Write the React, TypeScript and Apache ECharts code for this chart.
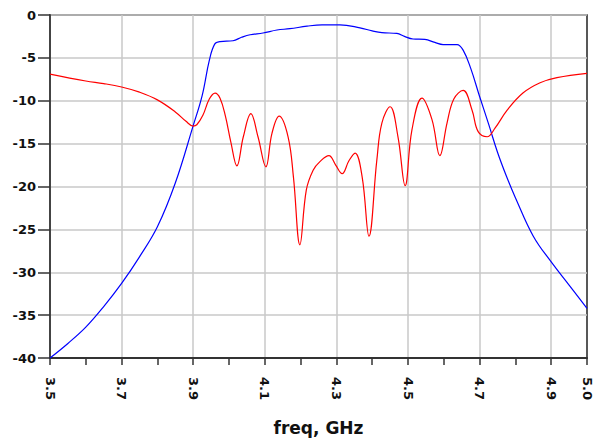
import React, { useEffect, useRef } from "react";
import * as echarts from "echarts";

const s21Freq = [3.5, 3.55, 3.6, 3.65, 3.7, 3.75, 3.8, 3.85, 3.9, 3.925, 3.945, 3.96, 3.975, 4.011, 4.035, 4.059, 4.095, 4.134, 4.17, 4.218, 4.26, 4.31, 4.366, 4.4, 4.427, 4.469, 4.49, 4.514, 4.547, 4.575, 4.598, 4.637, 4.654, 4.675, 4.7, 4.725, 4.75, 4.775, 4.8, 4.85, 4.9, 4.95, 5.0];
const s21Values = [-40, -38.3, -36.4, -34.0, -31.3, -28.2, -24.7, -19.6, -12.9, -9.4, -5.3, -3.4, -3.1, -3.0, -2.6, -2.3, -2.1, -1.75, -1.6, -1.3, -1.15, -1.15, -1.5, -1.85, -2.06, -2.15, -2.5, -2.8, -2.85, -3.2, -3.45, -3.45, -4.1, -6.2, -9.5, -12.7, -16.0, -18.8, -21.3, -25.8, -28.8, -31.5, -34.2];

const s11Freq = [3.5, 3.6, 3.65, 3.7, 3.75, 3.8, 3.85, 3.88, 3.9, 3.91, 3.927, 3.945, 3.961, 3.975, 3.99, 4.005, 4.022, 4.04, 4.061, 4.081, 4.103, 4.12, 4.14, 4.165, 4.18, 4.198, 4.216, 4.235, 4.254, 4.279, 4.298, 4.316, 4.335, 4.352, 4.372, 4.391, 4.413, 4.427, 4.45, 4.472, 4.492, 4.511, 4.539, 4.567, 4.589, 4.609, 4.628, 4.654, 4.679, 4.696, 4.721, 4.743, 4.777, 4.821, 4.869, 4.916, 5.0];
const s11Values = [-6.9, -7.7, -8.0, -8.4, -9.0, -9.9, -11.3, -12.4, -12.95, -12.8, -11.7, -9.8, -9.1, -9.7, -11.8, -14.8, -17.6, -14.2, -11.5, -14.2, -17.7, -13.8, -11.8, -14.2, -18.9, -26.8, -20.4, -18.1, -17.1, -16.4, -17.5, -18.5, -17.0, -16.1, -18.9, -25.8, -16.9, -12.6, -10.7, -14.2, -19.9, -13.4, -9.7, -12.2, -16.4, -12.6, -9.8, -8.8, -11.1, -13.6, -14.2, -13.2, -11.1, -9.1, -7.9, -7.3, -6.8];

const xAxisName = "freq, GHz";
const fontFamily = "DejaVu Sans";

export default function App() {
  const ref = useRef<HTMLDivElement>(null);
  useEffect(() => {
    if (!ref.current) return;
    const chart = echarts.init(ref.current, undefined, { renderer: "svg" });
    chart.setOption({
      animation: false,
      backgroundColor: "#ffffff",
      grid: {
        left: 50,
        right: 10,
        top: 15,
        bottom: 86,
        containLabel: false,
        outerBoundsMode: "none",
        show: true,
        borderColor: "#222222",
        borderWidth: 1.5,
      },
      xAxis: {
        type: "value",
        min: 3.5,
        max: 5.0,
        interval: 0.1,
        name: xAxisName,
        nameLocation: "middle",
        nameGap: 61,
        nameTextStyle: { fontFamily, fontWeight: "bold", fontSize: 17, color: "#111" },
        axisLine: { show: true, onZero: false, lineStyle: { color: "#333", width: 2 } },
        axisTick: { show: true, length: 7, lineStyle: { color: "#333", width: 1.5 } },
        axisLabel: {
          rotate: -90,
          margin: 19,
          fontFamily,
          fontWeight: "bold",
          fontSize: 13,
          color: "#111",
          showMinLabel: true,
          showMaxLabel: true,
          formatter: (v: number) => {
            const k = Math.round(v * 10);
            if (k % 2 === 1 || k === 50) return (k / 10).toFixed(1);
            return "";
          },
        },
        splitLine: {
          show: true,
          lineStyle: { color: ["#c8c8c8", "rgba(0,0,0,0)"], width: 1.5 },
        },
      },
      yAxis: {
        type: "value",
        min: -40,
        max: 0,
        interval: 5,
        axisLine: { show: true, onZero: false, lineStyle: { color: "#444", width: 2 } },
        axisTick: { show: true, length: 12, lineStyle: { color: "#333", width: 1.5 } },
        axisLabel: {
          margin: 14,
          fontFamily,
          fontWeight: "bold",
          fontSize: 13,
          color: "#111",
        },
        splitLine: { show: true, lineStyle: { color: "#c8c8c8", width: 1.5 } },
      },
      series: [
        {
          name: "S21",
          type: "line",
          data: s21Freq.map((f, i) => [f, s21Values[i]]),
          smooth: 0.4,
          showSymbol: false,
          lineStyle: { color: "#0000ff", width: 1.2 },
          itemStyle: { color: "#0000ff" },
        },
        {
          name: "S11",
          type: "line",
          data: s11Freq.map((f, i) => [f, s11Values[i]]),
          smooth: 0.4,
          showSymbol: false,
          lineStyle: { color: "#ff0000", width: 1.2 },
          itemStyle: { color: "#ff0000" },
        },
      ],
    });
    return () => chart.dispose();
  }, []);
  return <div ref={ref} style={{ width: 597, height: 444, position: "absolute", left: 0, top: 0 }} />;
}
